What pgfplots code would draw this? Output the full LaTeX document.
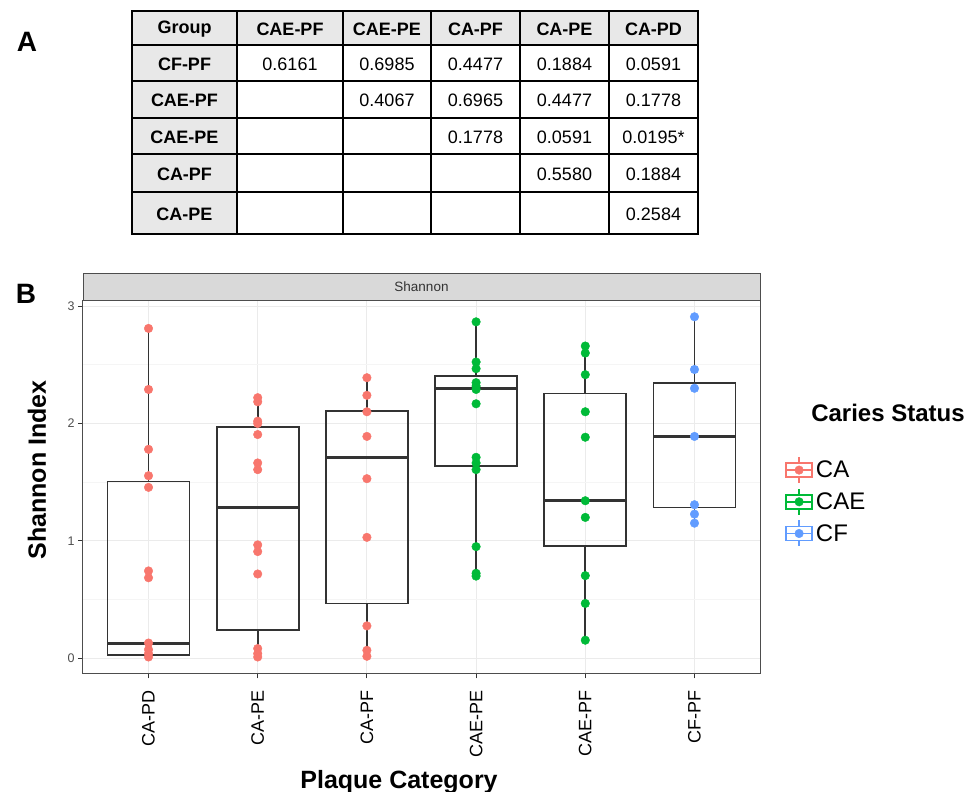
\documentclass[border=0pt]{standalone}
\usepackage{fontspec}
\setmainfont{Liberation Sans}
\usepackage{pgfplots}
\pgfplotsset{compat=1.18}
\usepgfplotslibrary{statistics}
\definecolor{caRed}{HTML}{F8766D}
\definecolor{caeGreen}{HTML}{00BA38}
\definecolor{cfBlue}{HTML}{619CFF}
\definecolor{gtwenty}{HTML}{333333}
\definecolor{gridmaj}{HTML}{EBEBEB}
\definecolor{gridmin}{HTML}{F5F5F5}
\definecolor{stripgray}{HTML}{D9D9D9}
\definecolor{tablegray}{HTML}{E8E8E8}
\definecolor{ticklab}{HTML}{4D4D4D}
\newcommand\tf{\fontsize{18}{20}\selectfont}
\newcommand\tb{\bfseries\fontsize{18}{20}\selectfont}
\pgfplotsset{ggbox/.style={legend image code/.code={
  \draw[#1,line width=1.7pt] (0pt,-7pt) rectangle (26pt,7pt);
  \draw[#1,line width=1.7pt] (0pt,0pt) -- (26pt,0pt);
  \draw[#1,line width=1.7pt] (13pt,7pt) -- (13pt,13pt) (13pt,-7pt) -- (13pt,-13pt);
  \fill[#1] (13pt,0pt) circle (4.3pt);
}}}
\begin{document}
\begin{tikzpicture}
\useasboundingbox (0pt,0pt) rectangle (970pt,-792pt);
% ---------- Panel A: table ----------
\node[font=\bfseries\fontsize{28}{28}\selectfont] at (27pt,-42pt) {A};
\fill[tablegray] (132pt,-11pt) rectangle (698pt,-45pt);
\fill[tablegray] (132pt,-45pt) rectangle (237pt,-234pt);
\foreach \x in {237,343,431,520,609} \draw[line width=1.6pt] (\x pt,-11pt) -- (\x pt,-234pt);
\foreach \y in {45,81,118,154,192} \draw[line width=1.6pt] (132pt,-\y pt) -- (698pt,-\y pt);
\draw[line width=1.6pt] (132pt,-11pt) rectangle (698pt,-234pt);
% header
\node[font=\tb] at (184.5pt,-29pt) {Group};
\node[font=\tb] at (290pt,-29pt) {CAE-PF};
\node[font=\tb] at (387pt,-29pt) {CAE-PE};
\node[font=\tb] at (475.5pt,-29pt) {CA-PF};
\node[font=\tb] at (564.5pt,-29pt) {CA-PE};
\node[font=\tb] at (653.5pt,-29pt) {CA-PD};
% first column
\node[font=\tb] at (184.5pt,-64pt) {CF-PF};
\node[font=\tb] at (184.5pt,-100pt) {CAE-PF};
\node[font=\tb] at (184.5pt,-137pt) {CAE-PE};
\node[font=\tb] at (184.5pt,-174pt) {CA-PF};
\node[font=\tb] at (184.5pt,-214pt) {CA-PE};
% values
\node[font=\tf] at (290pt,-64pt) {0.6161};
\node[font=\tf] at (387pt,-64pt) {0.6985};
\node[font=\tf] at (475.5pt,-64pt) {0.4477};
\node[font=\tf] at (564.5pt,-64pt) {0.1884};
\node[font=\tf] at (653.5pt,-64pt) {0.0591};
\node[font=\tf] at (387pt,-100pt) {0.4067};
\node[font=\tf] at (475.5pt,-100pt) {0.6965};
\node[font=\tf] at (564.5pt,-100pt) {0.4477};
\node[font=\tf] at (653.5pt,-100pt) {0.1778};
\node[font=\tf] at (475.5pt,-137pt) {0.1778};
\node[font=\tf] at (564.5pt,-137pt) {0.0591};
\node[font=\tf] at (653.5pt,-137pt) {0.0195*};
\node[font=\tf] at (564.5pt,-174pt) {0.5580};
\node[font=\tf] at (653.5pt,-174pt) {0.1884};
\node[font=\tf] at (653.5pt,-214pt) {0.2584};
% ---------- Panel B ----------
\node[font=\bfseries\fontsize{28}{28}\selectfont] at (26pt,-294pt) {B};
\fill[stripgray] (83pt,-273pt) rectangle (760pt,-300pt);
\draw[ticklab,line width=1pt] (83pt,-273pt) rectangle (760pt,-300pt);
\node[font=\fontsize{13.5}{14}\selectfont, text=gtwenty] at (421.5pt,-286.5pt) {Shannon};
\begin{axis}[
  at={(83pt,-673.3pt)}, anchor=south west,
  scale only axis, width=677pt, height=373.3pt,
  xmin=0.4, xmax=6.6, ymin=-0.128, ymax=3.052,
  axis line style={draw=ticklab, line width=1pt},
  xtick={1,2,3,4,5,6},
  xticklabels={CA-PD,CA-PE,CA-PF,CAE-PE,CAE-PF,CF-PF},
  ytick={0,1,2,3}, minor ytick={0.5,1.5,2.5},
  xmajorgrids, ymajorgrids, yminorgrids,
  major grid style={draw=gridmaj, line width=1.1pt},
  minor grid style={draw=gridmin, line width=0.7pt},
  tick align=outside, tick pos=left,
  major tick length=5pt, minor tick length=0pt,
  every tick/.style={draw=gtwenty, line width=1pt},
  yticklabel style={font=\fontsize{12.5}{12.5}\selectfont, text=ticklab},
  xticklabel style={font=\fontsize{18}{18}\selectfont, text=black, rotate=90, anchor=east},
  xticklabel shift=9pt,
  /pgf/number format/assume math mode=true,
  boxplot/draw direction=y,
  boxplot/every box/.style={draw=gtwenty, line width=1.7pt},
  boxplot/every whisker/.style={draw=gtwenty, line width=1.7pt},
  boxplot/every median/.style={draw=gtwenty, line width=3.2pt},
  xlabel={Plaque Category}, ylabel={Shannon Index},
  xlabel style={at={(axis description cs:0.4668,-0.291)}, anchor=center, font=\bfseries\fontsize{25}{25}\selectfont},
  ylabel style={at={(axis description cs:-0.068,0.5446)}, anchor=center, font=\bfseries\fontsize{25}{25}\selectfont},
  legend style={at={(axis description cs:1.037,0.582)}, anchor=north west, draw=none, fill=none,
    font=\fontsize{24}{26}\selectfont, inner sep=0pt, row sep=4pt,
    nodes={inner xsep=3pt}},
  legend cell align=left,
]
% boxes
\addplot[forget plot, draw=gtwenty, line width=1.7pt, boxplot prepared={draw position=1,
  lower whisker=0.011, lower quartile=0.026, median=0.125, upper quartile=1.507, upper whisker=2.81,
  box extend=0.75, whisker extend=0}] coordinates {};
\addplot[forget plot, draw=gtwenty, line width=1.7pt, boxplot prepared={draw position=2,
  lower whisker=0.011, lower quartile=0.239, median=1.285, upper quartile=1.97, upper whisker=2.22,
  box extend=0.75, whisker extend=0}] coordinates {};
\addplot[forget plot, draw=gtwenty, line width=1.7pt, boxplot prepared={draw position=3,
  lower whisker=0.017, lower quartile=0.467, median=1.712, upper quartile=2.105, upper whisker=2.39,
  box extend=0.75, whisker extend=0}] coordinates {};
\addplot[forget plot, draw=gtwenty, line width=1.7pt, boxplot prepared={draw position=4,
  lower whisker=0.70, lower quartile=1.636, median=2.299, upper quartile=2.405, upper whisker=2.866,
  box extend=0.75, whisker extend=0}] coordinates {};
\addplot[forget plot, draw=gtwenty, line width=1.7pt, boxplot prepared={draw position=5,
  lower whisker=0.154, lower quartile=0.957, median=1.342, upper quartile=2.256, upper whisker=2.65,
  box extend=0.75, whisker extend=0}] coordinates {};
\addplot[forget plot, draw=gtwenty, line width=1.7pt, boxplot prepared={draw position=6,
  lower whisker=1.151, lower quartile=1.285, median=1.89, upper quartile=2.342, upper whisker=2.909,
  box extend=0.75, whisker extend=0}] coordinates {};
% points
\addplot[forget plot, only marks, mark=*, mark size=4.3pt, mark options={draw=caRed, fill=caRed}] coordinates {
 (1,2.81) (1,2.29) (1,1.78) (1,1.555) (1,1.456) (1,0.744) (1,0.686) (1,0.13) (1,0.074) (1,0.04) (1,0.011)
 (2,2.22) (2,2.185) (2,2.02) (2,2.0) (2,1.906) (2,1.664) (2,1.607) (2,0.966) (2,0.909) (2,0.718) (2,0.083) (2,0.04) (2,0.011)
 (3,2.39) (3,2.24) (3,2.10) (3,1.89) (3,1.53) (3,1.03) (3,0.276) (3,0.068) (3,0.017)
};
\addplot[forget plot, only marks, mark=*, mark size=4.3pt, mark options={draw=caeGreen, fill=caeGreen}] coordinates {
 (4,2.866) (4,2.524) (4,2.467) (4,2.348) (4,2.319) (4,2.29) (4,2.168) (4,1.712) (4,1.664) (4,1.607) (4,0.951) (4,0.724) (4,0.70)
 (5,2.66) (5,2.60) (5,2.416) (5,2.10) (5,1.883) (5,1.342) (5,1.20) (5,0.704) (5,0.467) (5,0.154)
};
\addplot[forget plot, only marks, mark=*, mark size=4.3pt, mark options={draw=cfBlue, fill=cfBlue}] coordinates {
 (6,2.909) (6,2.46) (6,2.30) (6,1.89) (6,1.308) (6,1.228) (6,1.151)
};
\addlegendimage{ggbox=caRed}
\addlegendentry{CA}
\addlegendimage{ggbox=caeGreen}
\addlegendentry{CAE}
\addlegendimage{ggbox=cfBlue}
\addlegendentry{CF}
\end{axis}
\node[font=\bfseries\fontsize{24}{24}\selectfont] at (888pt,-413pt) {Caries Status};
\end{tikzpicture}
\end{document}
